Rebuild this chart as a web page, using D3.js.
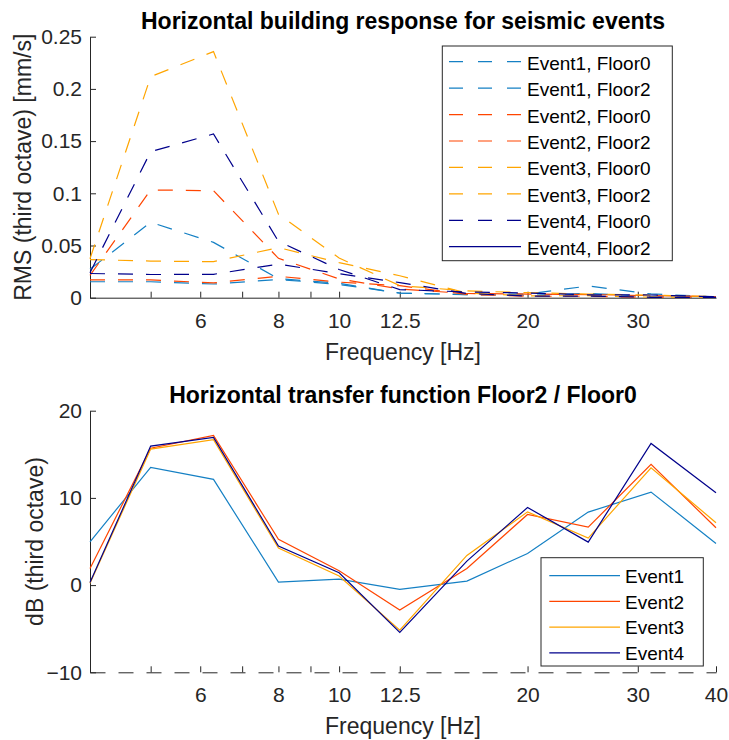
<!DOCTYPE html>
<html>
<head>
<meta charset="utf-8">
<script src="https://cdn.jsdelivr.net/npm/d3@7"></script>
<style>
  html, body { margin: 0; padding: 0; background: #fff; }
  svg { display: block; font-family: "Liberation Sans", Arial, Helvetica, sans-serif; }
</style>
</head>
<body>
<svg id="chart" width="729" height="740"></svg>
<script>
// Third-octave band centre frequencies [Hz]
const freqs = [4, 5, 6.3, 8, 10, 12.5, 16, 20, 25, 31.5, 40];

const events = ["Event1", "Event2", "Event3", "Event4"];
const floors = ["Floor0", "Floor2"];

// RMS velocity per third-octave band [mm/s]
const event1Floor0 = [0.0153, 0.0153, 0.0131, 0.0175, 0.0127, 0.0045, 0.0029, 0.0023, 0.0042, 0.00105, 0.00046];
const event1Floor2 = [0.0272, 0.0722, 0.0530, 0.0182, 0.0138, 0.0043, 0.0030, 0.0035, 0.0112, 0.0036, 0.0008];
const event2Floor0 = [0.0170, 0.0170, 0.0142, 0.0205, 0.0149, 0.0115, 0.0032, 0.0014, 0.0014, 0.0004, 0.00042];
const event2Floor2 = [0.0213, 0.1032, 0.1025, 0.0377, 0.0180, 0.0083, 0.0040, 0.0035, 0.0030, 0.0020, 0.0009];
const event3Floor0 = [0.0365, 0.0351, 0.0345, 0.0480, 0.0336, 0.0210, 0.0044, 0.0018, 0.0019, 0.0005, 0.00044];
const event3Floor2 = [0.0373, 0.2117, 0.2357, 0.0800, 0.0380, 0.0116, 0.0065, 0.0048, 0.0035, 0.0024, 0.0010];
const event4Floor0 = [0.0232, 0.0222, 0.0224, 0.0322, 0.0230, 0.0145, 0.0040, 0.0016, 0.0016, 0.0004, 0.00027];
const event4Floor2 = [0.0240, 0.1399, 0.1568, 0.0540, 0.0270, 0.0078, 0.0055, 0.0045, 0.0028, 0.0026, 0.0009];

// Transfer function Floor2 / Floor0 [dB]
const event1Transfer = [4.97, 13.5, 12.12, 0.34, 0.69, -0.5, 0.46, 3.63, 8.37, 10.67, 4.78];
const event2Transfer = [1.9, 15.7, 17.17, 5.24, 1.64, -2.87, 1.9, 8.1, 6.65, 13.84, 6.58];
const event3Transfer = [0.2, 15.6, 16.67, 4.24, 1.05, -5.16, 3.4, 8.4, 5.39, 13.46, 7.15];
const event4Transfer = [0.3, 15.94, 16.94, 4.47, 1.41, -5.43, 2.75, 8.9, 4.93, 16.25, 10.59];

// Axis ticks
const freqTicks = [5, 6, 7, 8, 9, 10, 12.5, 20, 30, 40];
const rmsFreqLabels = [6, 8, 10, 12.5, 20, 30];
const dbFreqLabels = [6, 8, 10, 12.5, 20, 30, 40];
const rmsTicks = [0, 0.05, 0.1, 0.15, 0.2, 0.25];
const dbTicks = [-10, 0, 10, 20];

// ---------------------------------------------------------------
const rmsSeries = [
  [event1Floor0, event1Floor2],
  [event2Floor0, event2Floor2],
  [event3Floor0, event3Floor2],
  [event4Floor0, event4Floor2]
];
const transferSeries = [event1Transfer, event2Transfer, event3Transfer, event4Transfer];

const colors = ["#1580c4", "#ff4500", "#ffa500", "#00008b"];
const axisColor = "#262626";
const dash = "15,13";

const svg = d3.select("#chart");
const left = 90, right = 716;
const tickLen = 6;

const x = d3.scaleLog().domain([4, 40]).range([left, right]);

function drawAxes(g, y, yTicks, yFmt, xLabels, top, bottom, dashedBase, title, xTitle, yTitle, yTitleX, titleY) {
  const xAxis = d3.axisBottom(x)
    .tickValues(freqTicks.filter(f => f < 40 || xLabels.includes(40)))
    .tickFormat(d => xLabels.includes(d) ? String(d) : "")
    .tickSizeInner(-tickLen).tickSizeOuter(0).tickPadding(15);
  const gx = g.append("g").attr("transform", `translate(0,${bottom})`).call(xAxis);
  const yAxis = d3.axisLeft(y).tickValues(yTicks).tickFormat(yFmt)
    .tickSizeInner(-tickLen).tickSizeOuter(0).tickPadding(8);
  const gy = g.append("g").attr("transform", `translate(${left},0)`).call(yAxis);

  [gx, gy].forEach(a => {
    a.selectAll("path.domain").attr("stroke", axisColor).attr("stroke-width", 1);
    a.selectAll(".tick line").attr("stroke", axisColor).attr("stroke-width", 1);
    a.selectAll(".tick text").attr("fill", axisColor)
      .style("font-size", "21px").style("font-family", "'Liberation Sans', Arial, sans-serif");
  });
  if (dashedBase) gx.select("path.domain").attr("stroke-dasharray", dash);

  g.append("text").attr("x", (left + right) / 2).attr("y", titleY)
    .attr("text-anchor", "middle").attr("font-weight", "bold").attr("font-size", 23)
    .attr("fill", "#000").text(title);
  g.append("text").attr("x", (left + right) / 2).attr("y", bottom + 62)
    .attr("text-anchor", "middle").attr("font-size", 23).attr("fill", axisColor).text(xTitle);
  g.append("text")
    .attr("transform", `translate(${yTitleX},${(top + bottom) / 2}) rotate(-90)`)
    .attr("text-anchor", "middle").attr("font-size", 23).attr("fill", axisColor).text(yTitle);
}

// ---------- Upper panel: RMS response ----------
const top1 = 36.7, bot1 = 297.7;
const y1 = d3.scaleLinear().domain([0, 0.25]).range([bot1, top1]);
const g1 = svg.append("g");
drawAxes(g1, y1, rmsTicks, d3.format("~g"), rmsFreqLabels, top1, bot1, false,
  "Horizontal building response for seismic events", "Frequency [Hz]",
  "RMS (third octave) [mm/s]", 31, 29);

const line1 = d3.line().x((d, i) => x(freqs[i])).y(d => y1(d));
const rmsEntries = [];
rmsSeries.forEach((pair, e) => {
  pair.forEach((vals, f) => {
    rmsEntries.push({ label: `${events[e]}, ${floors[f]}`, color: colors[e], values: vals });
  });
});
g1.append("g").selectAll("path").data(rmsEntries).join("path")
  .attr("d", d => line1(d.values))
  .attr("fill", "none").attr("stroke", d => d.color)
  .attr("stroke-width", 1.2).attr("stroke-dasharray", dash);

// Upper legend
const leg1 = { x: 442.3, y: 46, w: 230, h: 214.7, row0: 61.7, step: 26.43, lx0: 449, lx1: 521, tx: 527 };
g1.append("rect").attr("x", leg1.x).attr("y", leg1.y).attr("width", leg1.w).attr("height", leg1.h)
  .attr("fill", "#fff").attr("stroke", axisColor).attr("stroke-width", 1);
rmsEntries.forEach((d, i) => {
  const yy = leg1.row0 + i * leg1.step;
  const solidSample = i === rmsEntries.length - 1;
  g1.append("line").attr("x1", leg1.lx0).attr("x2", leg1.lx1).attr("y1", yy).attr("y2", yy)
    .attr("stroke", d.color).attr("stroke-width", 1.2)
    .attr("stroke-dasharray", solidSample ? null : "14,15");
  g1.append("text").attr("x", leg1.tx).attr("y", yy).attr("dy", "0.42em")
    .attr("font-size", 19).attr("fill", "#000").text(d.label);
});

// ---------- Lower panel: transfer function ----------
const top2 = 410.7, bot2 = 672.3;
const y2 = d3.scaleLinear().domain([-10, 20]).range([bot2, top2]);
const g2 = svg.append("g");
drawAxes(g2, y2, dbTicks, d3.format("d"), dbFreqLabels, top2, bot2, true,
  "Horizontal transfer function Floor2 / Floor0", "Frequency [Hz]",
  "dB (third octave)", 42.5, 403);

const line2 = d3.line().x((d, i) => x(freqs[i])).y(d => y2(d));
g2.append("g").selectAll("path").data(transferSeries).join("path")
  .attr("d", d => line2(d))
  .attr("fill", "none").attr("stroke", (d, i) => colors[i]).attr("stroke-width", 1.2);

// Lower legend
const leg2 = { x: 541, y: 557.7, w: 162.3, h: 108.3, row0: 575.7, step: 25.7, lx0: 549.3, lx1: 620, tx: 625 };
g2.append("rect").attr("x", leg2.x).attr("y", leg2.y).attr("width", leg2.w).attr("height", leg2.h)
  .attr("fill", "#fff").attr("stroke", axisColor).attr("stroke-width", 1);
events.forEach((name, i) => {
  const yy = leg2.row0 + i * leg2.step;
  g2.append("line").attr("x1", leg2.lx0).attr("x2", leg2.lx1).attr("y1", yy).attr("y2", yy)
    .attr("stroke", colors[i]).attr("stroke-width", 1.2);
  g2.append("text").attr("x", leg2.tx).attr("y", yy).attr("dy", "0.38em")
    .attr("font-size", 19).attr("fill", "#000").text(name);
});
</script>
</body>
</html>
